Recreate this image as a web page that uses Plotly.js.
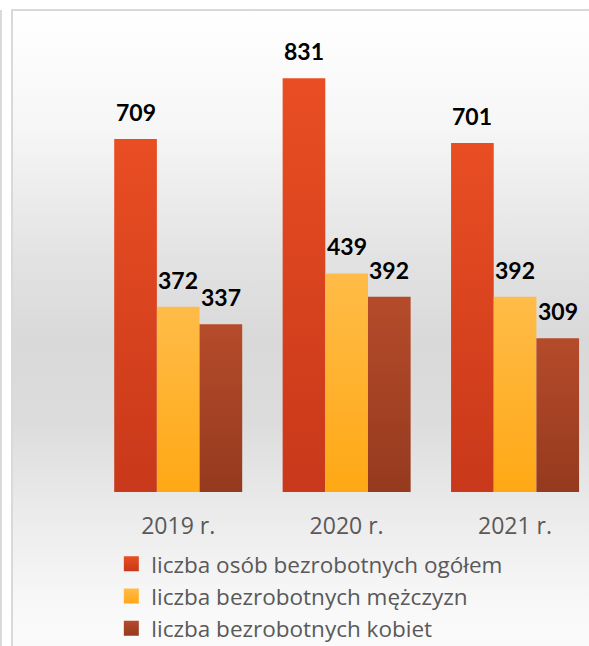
<!DOCTYPE html>
<html>
<head>
<meta charset="utf-8">
<script src="https://cdn.plot.ly/plotly-3.0.1.min.js"></script>
<style>
html,body{margin:0;padding:0;background:#ffffff;}
#wrap{position:relative;width:589px;height:646px;overflow:hidden;background:#ffffff;}
#leftline{position:absolute;left:0;top:10px;width:2px;height:636px;background:#dadada;}
#frame{position:absolute;left:11px;top:9px;width:600px;height:660px;border:2px solid #d9d9d9;
  background:linear-gradient(to bottom,#ffffff 0%,#f6f6f6 18%,#e2e2e2 38%,#d9d9d9 50%,#dcdcdc 62%,#ebebeb 76%,#f8f8f8 90%,#fcfcfc 100%);}
#chart{position:absolute;left:0;top:0;width:589px;height:646px;}
</style>
</head>
<body>
<div id="wrap">
<div id="leftline"></div>
<div id="frame"></div>
<div id="chart"></div>
</div>
<script>
const categories = ["2019 r.", "2020 r.", "2021 r."];
const seriesNames = ["liczba osób bezrobotnych ogółem", "liczba bezrobotnych mężczyzn", "liczba bezrobotnych kobiet"];
const totalValues = [709, 831, 701];
const menValues = [372, 439, 392];
const womenValues = [337, 392, 309];
const seriesValues = [totalValues, menValues, womenValues];
const colorsTop = ["#E94E23", "#FFBC48", "#B54B2A"];
const colorsBottom = ["#C8381A", "#FFA815", "#953A1F"];

const bargap = 0.24;
const nSeries = seriesValues.length;
const barW = (1 - bargap) / nSeries;

const traces = seriesValues.map((vals, k) => ({
  type: "bar",
  name: seriesNames[k],
  x: categories.map((c, i) => i),
  y: vals,
  marker: {color: colorsBottom[k], line: {width: 0}},
  hoverinfo: "skip"
}));

const annotations = [];
seriesValues.forEach((vals, k) => {
  vals.forEach((v, i) => {
    annotations.push({
      x: i + (k - (nSeries - 1) / 2) * barW,
      y: v,
      xref: "x", yref: "y",
      text: String(v),
      showarrow: false,
      yanchor: "bottom",
      xanchor: "center",
      yshift: 11,
      font: {family: "Lato, 'Open Sans', sans-serif", size: 23, color: "#000000", weight: 700}
    });
  });
});

const layout = {
  width: 589, height: 646,
  margin: {l: 94, r: 0, t: 10, b: 154, autoexpand: false},
  paper_bgcolor: "rgba(0,0,0,0)",
  plot_bgcolor: "rgba(0,0,0,0)",
  barmode: "group",
  bargap: bargap,
  bargroupgap: 0,
  showlegend: true,
  xaxis: {
    range: [-0.5, 2.439],
    automargin: false,
    tickmode: "array",
    tickvals: categories.map((c, i) => i),
    ticktext: categories,
    showgrid: false, zeroline: false, showline: false, ticks: "",
    ticklabelstandoff: 18,
    tickfont: {family: "'Open Sans', sans-serif", size: 23, color: "#595959"}
  },
  yaxis: {
    range: [0, 968],
    automargin: false,
    visible: false,
    showgrid: false, zeroline: false
  },
  legend: {
    orientation: "v",
    x: 0.035, xanchor: "left",
    y: -0.105, yanchor: "top",
    bgcolor: "rgba(0,0,0,0)",
    font: {family: "'Open Sans', sans-serif", size: 22.5, color: "#595959"},
    traceorder: "normal"
  },
  annotations: annotations
};

Plotly.newPlot("chart", traces, layout, {staticPlot: true, displayModeBar: false}).then(gd => {
  const svg = gd.querySelector("svg.main-svg");
  const ns = "http://www.w3.org/2000/svg";
  let defs = svg.querySelector("defs");
  if (!defs) { defs = document.createElementNS(ns, "defs"); svg.insertBefore(defs, svg.firstChild); }
  colorsTop.forEach((c, k) => {
    const g = document.createElementNS(ns, "linearGradient");
    g.setAttribute("id", "bargrad" + k);
    g.setAttribute("x1", "0"); g.setAttribute("y1", "0");
    g.setAttribute("x2", "0"); g.setAttribute("y2", "1");
    const s1 = document.createElementNS(ns, "stop");
    s1.setAttribute("offset", "0%"); s1.setAttribute("stop-color", c);
    const s2 = document.createElementNS(ns, "stop");
    s2.setAttribute("offset", "100%"); s2.setAttribute("stop-color", colorsBottom[k]);
    g.appendChild(s1); g.appendChild(s2);
    defs.appendChild(g);
  });
  gd.querySelectorAll(".barlayer .trace.bars").forEach((tr, k) => {
    tr.querySelectorAll("path").forEach(p => { p.style.fill = "url(#bargrad" + k + ")"; });
  });
  gd.querySelectorAll(".legend .traces").forEach((tr, k) => {
    tr.querySelectorAll(".legendpoints path").forEach(p => {
      p.setAttribute("d", "M7.5,7.5H-7.5V-7.5H7.5Z");
      p.style.fill = "url(#bargrad" + k + ")";
    });
  });
});
</script>
</body>
</html>
